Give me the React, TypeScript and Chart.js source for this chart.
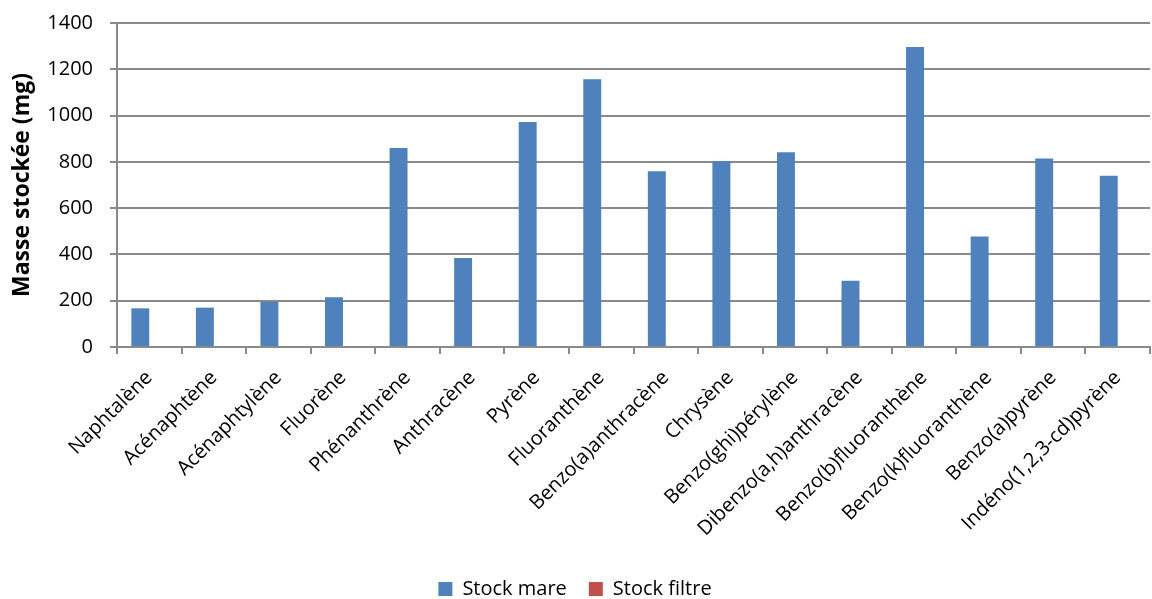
import React, { useEffect, useRef } from "react";
import { Chart, registerables } from "chart.js";

Chart.register(...registerables);

const categories = [
  "Naphtalène",
  "Acénaphtène",
  "Acénaphtylène",
  "Fluorène",
  "Phénanthrène",
  "Anthracène",
  "Pyrène",
  "Fluoranthène",
  "Benzo(a)anthracène",
  "Chrysène",
  "Benzo(ghi)pérylène",
  "Dibenzo(a,h)anthracène",
  "Benzo(b)fluoranthène",
  "Benzo(k)fluoranthène",
  "Benzo(a)pyrène",
  "Indéno(1,2,3-cd)pyrène",
];

const stockMare = [167, 170, 195, 215, 860, 385, 972, 1157, 759, 804, 842, 286, 1296, 478, 814, 740];
const stockFiltre = [0, 0, 0, 0, 0, 0, 0, 0, 0, 0, 0, 0, 0, 0, 0, 0];

const yTicks = [0, 200, 400, 600, 800, 1000, 1200, 1400];

const FONT = "'Open Sans', 'Liberation Sans', sans-serif";
const GRID = "#8a8a8a";

export default function App() {
  const ref = useRef<HTMLCanvasElement | null>(null);

  useEffect(() => {
    document.body.style.margin = "0";
    const canvas = ref.current;
    if (!canvas) return;
    const chart = new Chart(canvas, {
      type: "bar",
      data: {
        labels: categories,
        datasets: [
          {
            label: "Stock mare",
            data: stockMare,
            backgroundColor: "#4F81BD",
            borderWidth: 0,
            categoryPercentage: 0.556,
            barPercentage: 1,
          },
          {
            label: "Stock filtre",
            data: stockFiltre,
            backgroundColor: "#C0504D",
            borderWidth: 0,
            categoryPercentage: 0.556,
            barPercentage: 1,
          },
        ],
      },
      options: {
        animation: false,
        responsive: true,
        maintainAspectRatio: false,
        layout: { padding: { top: 23, right: 2, left: 0, bottom: -10 } },
        plugins: {
          legend: {
            position: "bottom",
            labels: {
              font: { family: FONT, size: 20 },
              color: "#000",
              boxWidth: 14,
              boxHeight: 14,
              padding: 22,
            },
          },
          tooltip: { enabled: false },
        },
        scales: {
          x: {
            grid: {
              display: true,
              drawOnChartArea: false,
              offset: true,
              color: GRID,
              lineWidth: 2,
              tickLength: 7,
            },
            border: { color: GRID, width: 2 },
            ticks: {
              font: { family: FONT, size: 20 },
              color: "#000",
              maxRotation: 45,
              minRotation: 45,
              autoSkip: false,
              padding: 12,
            },
            afterFit: (scale: any) => {
              scale.height = 210;
            },
          },
          y: {
            min: 0,
            max: 1400,
            afterBuildTicks: (scale: any) => {
              scale.ticks = yTicks.map((v) => ({ value: v }));
            },
            grid: {
              color: GRID,
              lineWidth: 2,
              tickLength: 7,
            },
            border: { color: GRID, width: 2 },
            ticks: {
              font: { family: FONT, size: 20 },
              color: "#000",
              padding: 17,
              callback: (v: any) => String(v),
            },
            title: {
              display: true,
              text: "Masse stockée (mg)",
              font: { family: FONT, size: 23, weight: "bold" },
              color: "#000",
              padding: { top: 9, bottom: 0 },
            },
            afterFit: (scale: any) => {
              scale.width = 117;
              scale.paddingTop = 0;
              scale.paddingBottom = 0;
            },
          },
        },
      },
    });
    return () => chart.destroy();
  }, []);

  return (
    <div style={{ width: 1152, height: 599, position: "relative" }}>
      <canvas ref={ref} />
    </div>
  );
}
